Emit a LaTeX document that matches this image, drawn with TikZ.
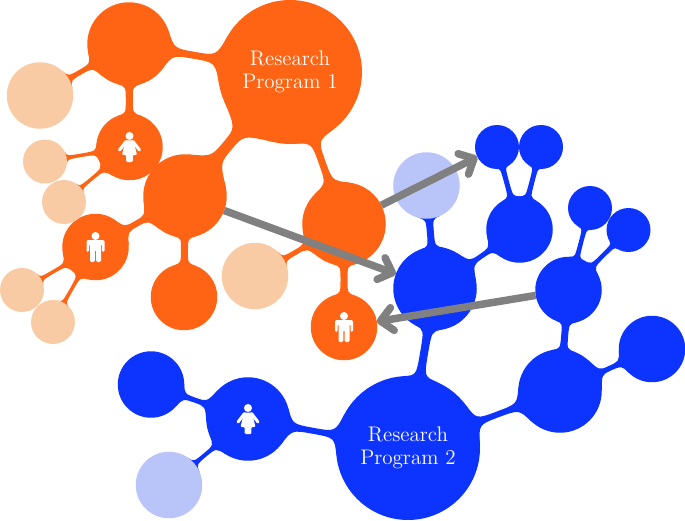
\documentclass[tikz,border=0pt]{standalone}
\usetikzlibrary{calc,backgrounds,arrows.meta}

\definecolor{progorange}{HTML}{FF6414}
\definecolor{paleorange}{HTML}{F9CBA5}
\definecolor{progblue}{HTML}{0D34FF}
\definecolor{paleblue}{HTML}{B9C4F8}
\definecolor{arrowgray}{HTML}{808080}

\tikzset{
  hub/.style={circle,inner sep=0pt,outer sep=0pt,minimum size=2.88cm,text=white,align=center,font=\fontsize{12}{13}\selectfont},
  large/.style={circle,inner sep=0pt,outer sep=0pt,minimum size=1.67cm},
  medium/.style={circle,inner sep=0pt,outer sep=0pt,minimum size=1.33cm},
  tiny/.style={circle,inner sep=0pt,outer sep=0pt,minimum size=0.88cm},
  link/.style={line width=0.15cm,arrowgray,-{Straight Barb[length=0.24cm,width=0.46cm,round]}},
  womanicon/.pic={
    \fill[white] (0,-11) circle (4);
    \fill[white,rounded corners=0.6pt] (-4,-6.5) -- (4,-6.5) -- (7.5,8) -- (3.3,8) -- (3.3,15) -- (-3.3,15) -- (-3.3,8) -- (-7.5,8) -- cycle;
    \draw[white,line width=0.06cm,line cap=round] (-3.5,-5.5) -- (-10,3);
    \draw[white,line width=0.06cm,line cap=round] (3.5,-5.5) -- (10,3);
  },
  manicon/.pic={
    \fill[white] (0,-11) circle (4);
    \fill[white,rounded corners=0.8pt] (-9,-7) -- (9,-7) -- (9,5) -- (6.5,5) -- (6.5,-3) -- (5.5,-3) -- (5.5,15) -- (0.7,15) -- (0.7,3) -- (-0.7,3) -- (-0.7,15) -- (-5.5,15) -- (-5.5,-3) -- (-6.5,-3) -- (-6.5,5) -- (-9,5) -- cycle;
  },
}

% neck: [half width], colour, from, to, spread at from, spread at to
\newcommand{\neck}[6][0.07cm]{
  \path let \p1=(#3), \p2=(#4), \n1={atan2(\y2-\y1,\x2-\x1)}, \n2={\n1+#5}, \n3={\n1-#5}, \n4={\n1+180-#6}, \n5={\n1+180+#6}, \n6={\n1+180} in
    (#3.\n2) coordinate (na1) (#3.\n3) coordinate (na2) (#4.\n4) coordinate (nb1) (#4.\n5) coordinate (nb2)
    ($(#3.\n1)!.5!(#4.\n6)$) coordinate (nm);
  \coordinate (nap) at ($(#3)!#1!90:(#4)$);
  \coordinate (nbp) at ($(#4)!#1!-90:(#3)$);
  \coordinate (naq) at ($(#3)!#1!-90:(#4)$);
  \coordinate (nbq) at ($(#4)!#1!90:(#3)$);
  \coordinate (ta1) at ($(na1)!1!90:(#3)$);
  \coordinate (ta2) at ($(na2)!1!90:(#3)$);
  \coordinate (tb1) at ($(nb1)!1!90:(#4)$);
  \coordinate (tb2) at ($(nb2)!1!90:(#4)$);
  \fill[#2] (na1) .. controls (intersection of na1--ta1 and nap--nbp) .. ($(nap)!(nm)!(nbp)$) .. controls (intersection of nb1--tb1 and nap--nbp) .. (nb1) --
    (nb2) .. controls (intersection of nb2--tb2 and naq--nbq) .. ($(naq)!(nm)!(nbq)$) .. controls (intersection of na2--ta2 and naq--nbq) .. (na2) -- cycle;
}

\begin{document}
\begin{tikzpicture}[x=0.02cm,y=-0.02cm]
\useasboundingbox (0,0) rectangle (685,520);

% orange program
\node[hub,fill=progorange] (r1) at (290,72) {Research\\Program 1};
\node[large,fill=progorange] (otop) at (129,44) {};
\node[large,fill=progorange] (omid) at (185,196) {};
\node[large,fill=progorange] (oright) at (344,224) {};
\node[medium,fill=progorange] (owoman) at (129.5,147) {};
\node[medium,fill=progorange] (oman) at (95.5,247) {};
\node[medium,fill=progorange] (oman2) at (344,327) {};
\node[medium,fill=progorange] (obottom) at (184,297) {};
\node[medium,fill=paleorange] (opale1) at (40,95.5) {};
\node[medium,fill=paleorange] (opale2) at (255,276) {};
\node[tiny,fill=paleorange] (opale3) at (45,161.5) {};
\node[tiny,fill=paleorange] (opale4) at (64,202) {};
\node[tiny,fill=paleorange] (opale5) at (22,290) {};
\node[tiny,fill=paleorange] (opale6) at (53,322) {};

% blue program
\node[hub,fill=progblue] (r2) at (408,448) {Research\\Program 2};
\node[large,fill=progblue] (bbig) at (435,288.5) {};
\node[large,fill=progblue] (bright) at (560,391) {};
\node[large,fill=progblue] (bwoman) at (248,419) {};
\node[medium,fill=progblue] (bup) at (519.5,229.5) {};
\node[medium,fill=progblue] (bside) at (568.5,290) {};
\node[medium,fill=progblue] (bfar) at (652,349) {};
\node[medium,fill=progblue] (bleft) at (151,384.5) {};
\node[medium,fill=paleblue] (bpale1) at (426.5,185.5) {};
\node[medium,fill=paleblue] (bpale2) at (169,485) {};
\node[tiny,fill=progblue] (bt1) at (497,147) {};
\node[tiny,fill=progblue] (bt2) at (541,147) {};
\node[tiny,fill=progblue] (bt3) at (590,208) {};
\node[tiny,fill=progblue] (bt4) at (628.5,230) {};

\begin{scope}[on background layer]
\neck[0.07cm]{progorange}{otop}{r1}{28}{20}
\neck[0.05cm]{progorange}{otop}{opale1}{20}{18}
\neck[0.07cm]{progorange}{otop}{owoman}{18}{20}
\neck[0.11cm]{progorange}{r1}{omid}{27}{36}
\neck[0.07cm]{progorange}{r1}{oright}{17}{26}
\neck[0.08cm]{progorange}{owoman}{omid}{10}{10}
\neck[0.035cm]{progorange}{owoman}{opale3}{16}{18}
\neck[0.035cm]{progorange}{owoman}{opale4}{20}{16}
\neck[0.06cm]{progorange}{omid}{oman}{24}{26}
\neck[0.07cm]{progorange}{omid}{obottom}{16}{20}
\neck[0.035cm]{progorange}{oman}{opale5}{20}{18}
\neck[0.035cm]{progorange}{oman}{opale6}{16}{16}
\neck[0.05cm]{progorange}{oright}{opale2}{22}{16}
\neck[0.07cm]{progorange}{oright}{oman2}{16}{20}
\neck[0.07cm]{progblue}{bbig}{bpale1}{16}{20}
\neck[0.05cm]{progblue}{bbig}{bup}{24}{22}
\neck[0.08cm]{progblue}{bbig}{r2}{19}{14}
\neck[0.05cm]{progblue}{bup}{bt1}{16}{16}
\neck[0.05cm]{progblue}{bup}{bt2}{16}{16}
\neck[0.045cm]{progblue}{bside}{bt3}{14}{16}
\neck[0.045cm]{progblue}{bside}{bt4}{18}{16}
\neck[0.07cm]{progblue}{bside}{bright}{18}{16}
\neck[0.05cm]{progblue}{bright}{bfar}{24}{22}
\neck[0.06cm]{progblue}{bright}{r2}{26}{17}
\neck[0.06cm]{progblue}{r2}{bwoman}{17}{26}
\neck[0.05cm]{progblue}{bwoman}{bleft}{24}{22}
\neck[0.04cm]{progblue}{bwoman}{bpale2}{18}{16}
\end{scope}

\pic at (owoman) {womanicon};
\pic at (oman) {manicon};
\pic at (oman2) {manicon};
\pic at (bwoman) {womanicon};

\draw[link] (oright) -- (bt1);
\draw[link] (omid) -- (bbig);
\draw[link] (bside) -- (oman2);

\end{tikzpicture}
\end{document}
